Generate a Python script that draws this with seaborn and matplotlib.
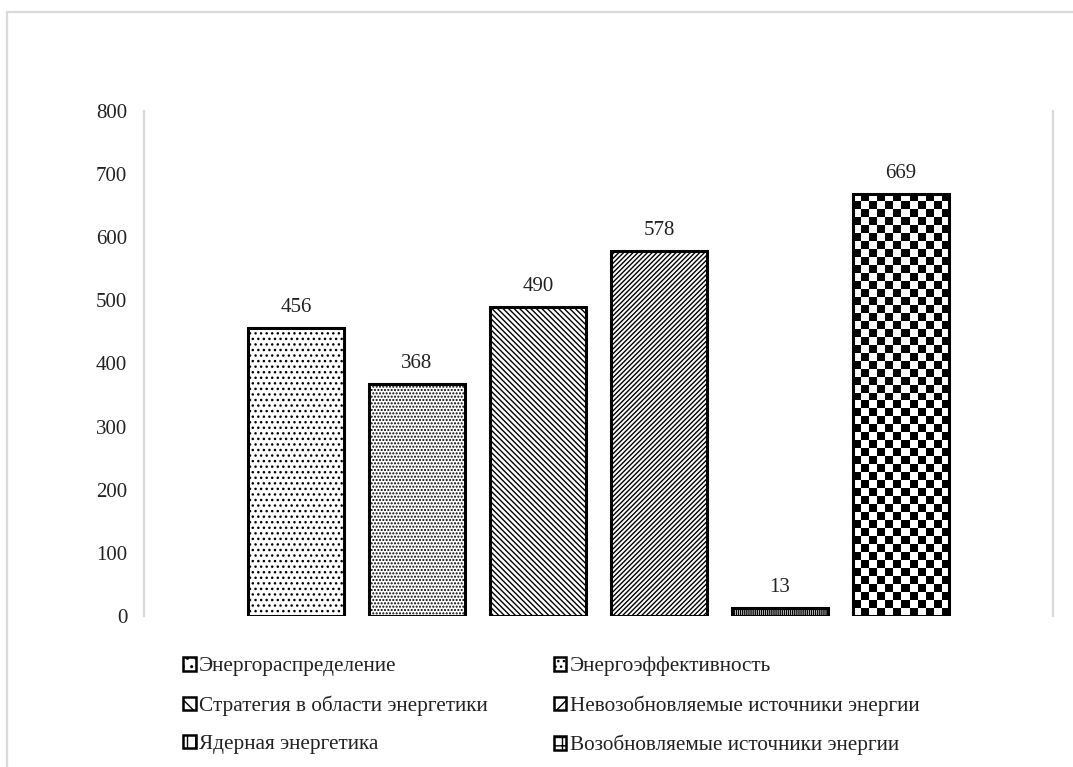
import numpy as np
import matplotlib
matplotlib.use("Agg")
import matplotlib.pyplot as plt
from matplotlib.patches import Patch, Rectangle
import seaborn as sns

# Number of items per energy topic
categories = [
    "Энергораспределение",
    "Энергоэффективность",
    "Стратегия в области энергетики",
    "Невозобновляемые источники энергии",
    "Ядерная энергетика",
    "Возобновляемые источники энергии",
]
values = [456, 368, 490, 578, 13, 669]
y_ticks = [0, 100, 200, 300, 400, 500, 600, 700, 800]

# Monochrome fill patterns for each topic ("checker" is painted as an image)
hatches = ["...", ".....", "\\" * 6, "/" * 7, "|" * 8, "checker"]
legend_hatches = ["..", "...", "\\\\", "//", "||", "++"]

sns.set_style("white")
plt.rcParams["font.family"] = ["Liberation Serif", "DejaVu Serif"]
plt.rcParams["hatch.linewidth"] = 1.0
plt.rcParams["hatch.color"] = "black"

W, H = 1073, 767
fig = plt.figure(figsize=(W / 100, H / 100), dpi=100)
ax = fig.add_axes([144 / W, 1 - 616 / H, (1053 - 144) / W, (616 - 111) / H])

sns.barplot(x=categories, y=values, hue=categories, order=categories,
            hue_order=categories, palette=["white"] * 6, legend=False,
            width=0.8, ax=ax, saturation=1)

ax.set_xlim(-1.256, 6.256)
ax.set_ylim(0, 800)
ax.set_yticks(y_ticks)
ax.set_yticklabels([str(t) for t in y_ticks])
ax.set_xticks([])
ax.set_xlabel("")
ax.set_ylabel("")
ax.tick_params(axis="y", length=0, pad=12, labelsize=15, colors="#222222")
for side in ("top", "bottom"):
    ax.spines[side].set_visible(False)
for side in ("left", "right"):
    ax.spines[side].set_color("#d9d9d9")
    ax.spines[side].set_linewidth(1.6)

bars = [c.patches[0] for c in ax.containers]
for bar, hatch in zip(bars, hatches):
    bar.set_facecolor("white")
    bar.set_edgecolor("black")
    bar.set_linewidth(2.2)
    bar.set_zorder(3)
    if hatch != "checker":
        bar.set_hatch(hatch)

# Checkerboard fill drawn as a clipped image inside the last bar
fig.canvas.draw()
cb = bars[hatches.index("checker")]
x0, y0, w, h = cb.get_x(), cb.get_y(), cb.get_width(), cb.get_height()
p0 = ax.transData.transform((x0, y0))
p1 = ax.transData.transform((x0 + w, y0 + h))
cell = 8.0
ncols = max(1, int(round((p1[0] - p0[0]) / cell)))
nrows = max(1, int(round((p1[1] - p0[1]) / cell)))
board = np.indices((nrows, ncols)).sum(axis=0) % 2
im = ax.imshow(board, cmap="binary", extent=(x0, x0 + w, y0, y0 + h),
               origin="upper", aspect="auto", interpolation="nearest",
               zorder=2, vmin=0, vmax=1)
im.set_clip_path(cb)
cb.set_facecolor("none")
ax.set_xlim(-1.256, 6.256)
ax.set_ylim(0, 800)

for cont in ax.containers:
    ax.bar_label(cont, fmt="%d", padding=8, fontsize=15, color="#222222")

# Legend, row-major in two columns
handles = [Patch(facecolor="white", edgecolor="black", linewidth=1.8,
                 hatch=h) for h in legend_hatches]
order = [0, 2, 4, 1, 3, 5]
fig.legend([handles[i] for i in order], [categories[i] for i in order],
           ncol=2, loc="upper left", bbox_to_anchor=(183 / W, 1 - 657 / H),
           frameon=False, fontsize=15.3, handlelength=0.6, handleheight=0.6,
           handletextpad=0.15, labelspacing=0.89, columnspacing=3.1,
           borderpad=0, borderaxespad=0, labelcolor="#222222")

# Outer chart border
fig.patches.append(Rectangle((7 / W, -0.2), 1.2, 1 - 12 / H + 0.2,
                             transform=fig.transFigure, fill=False,
                             edgecolor="#d9d9d9", linewidth=1.6))

fig.savefig("out.png", dpi=100)
